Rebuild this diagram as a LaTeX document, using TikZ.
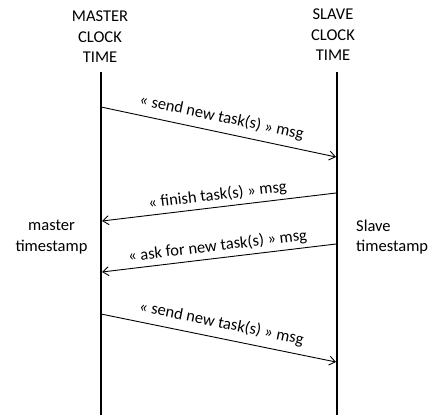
\documentclass[tikz,border=0pt]{standalone}
\usepackage{fontspec}
\setmainfont{Carlito}
\usetikzlibrary{arrows.meta}
\begin{document}
\begin{tikzpicture}[x=1pt,y=-1pt,
  txt/.style={font=\fontsize{16.5}{20.5}\selectfont, inner sep=0pt},
  life/.style={line width=2pt},
  msg/.style={line width=0.9pt, -{Straight Barb[length=6pt,width=9pt]}},
  lab/.style={txt, sloped, above=4pt, pos=0.5},
  labhi/.style={txt, sloped, above=7pt, pos=0.5}]
\useasboundingbox (0,0) rectangle (430,415);
% headings
\node[txt, align=center] (mh) at (100,37) {MASTER\\CLOCK\\TIME};
\node[txt, align=center] (sh) at (333,35) {SLAVE\\CLOCK\\TIME};
% lifelines
\coordinate (mtop) at (101,72);
\coordinate (mbot) at (101,415);
\coordinate (stop) at (337,72);
\coordinate (sbot) at (337,415);
\draw[life] (mtop) -- (mbot);
\draw[life] (stop) -- (sbot);
% message endpoints
\coordinate (m1) at (101,107);
\coordinate (s1) at (336,157);
\coordinate (s2) at (336,193);
\coordinate (m2) at (102,221);
\coordinate (s3) at (336,244);
\coordinate (m3) at (102,272);
\coordinate (m4) at (101,314);
\coordinate (s4) at (336,362);
\draw[msg] (m1) -- node[labhi] (l1) {« send new task(s) » msg} (s1);
\draw[msg] (s2) -- node[lab] (l2) {« finish task(s) » msg} (m2);
\draw[msg] (s3) -- node[lab] (l3) {« ask for new task(s) » msg} (m3);
\draw[msg] (m4) -- node[labhi] (l4) {« send new task(s) » msg} (s4);
% timestamps
\node[txt, align=center] (mts) at (51.5,237) {master\\timestamp};
\node[txt, align=left, anchor=west] (sts) at (356,237) {Slave\\timestamp};
\end{tikzpicture}
\end{document}
